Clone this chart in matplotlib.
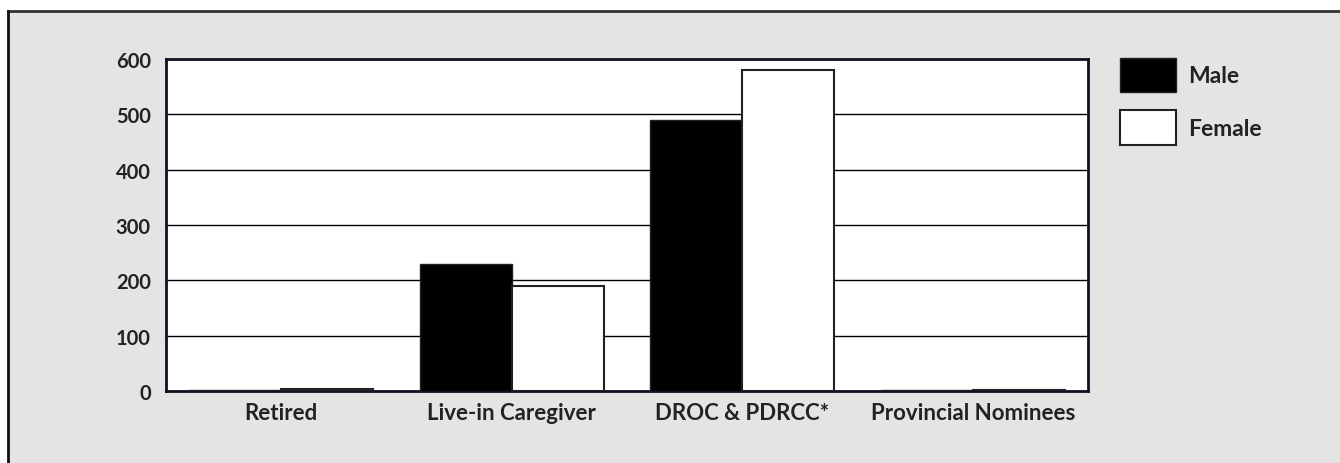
import numpy as np
import matplotlib
matplotlib.use("Agg")
from matplotlib import pyplot as plt
from matplotlib.lines import Line2D
from matplotlib.patches import Rectangle

# Data
categories = ["Retired", "Live-in Caregiver", "DROC & PDRCC*", "Provincial Nominees"]
male = [2, 230, 490, 1]
female = [3, 190, 580, 1]
series_labels = ["Male", "Female"]
y_ticks = [0, 100, 200, 300, 400, 500, 600]

plt.rcParams["font.family"] = ["Lato", "DejaVu Sans"]

W, H = 1340, 464
fig = plt.figure(figsize=(W / 100, H / 100), dpi=100)
fig.patch.set_facecolor("white")

# Grey panel with border on the top and left
x0, y0 = 7.5 / W, 1 - 11.5 / H
panel = Rectangle((x0, 0), 1 - x0, y0, transform=fig.transFigure,
                  facecolor="#e4e4e4", edgecolor="none", zorder=-10)
fig.add_artist(panel)
fig.add_artist(Line2D([x0, 1], [y0, y0], transform=fig.transFigure,
                      color="#333333", linewidth=2, zorder=-9))
fig.add_artist(Line2D([x0, x0], [0, y0], transform=fig.transFigure,
                      color="#111111", linewidth=2, zorder=-9))

ax = fig.add_axes([166 / W, 1 - 392 / H, (1088 - 166) / W, (392 - 60) / H])
ax.set_facecolor("white")

x = np.arange(len(categories))
width = 0.4
ax.bar(x - width / 2, male, width, color="black", edgecolor="#222222", linewidth=1,
       label=series_labels[0], zorder=3)
ax.bar(x + width / 2, female, width, color="white", edgecolor="#222222", linewidth=1.5,
       label=series_labels[1], zorder=3)

ax.set_xlim(-0.5, len(categories) - 0.5)
ax.set_ylim(0, 600)
ax.set_yticks(y_ticks)
ax.set_xticks(x)
ax.set_xticklabels(categories)
ax.yaxis.grid(True, color="black", linewidth=1)
ax.set_axisbelow(True)
ax.tick_params(axis="both", length=0, colors="#222222")
ax.tick_params(axis="y", pad=11, labelsize=14.5)
ax.tick_params(axis="x", pad=8, labelsize=16)
for lbl in ax.get_xticklabels() + ax.get_yticklabels():
    lbl.set_fontweight("bold")
for side in ax.spines.values():
    side.set_linewidth(2)
    side.set_color("#111122")

fs = 16.5
ax.legend(loc="upper left", bbox_to_anchor=(1120 / W, 1 - 59 / H),
          bbox_transform=fig.transFigure, frameon=False, borderpad=0,
          borderaxespad=0, handlelength=2.45, handleheight=1.92,
          labelspacing=0.79, handletextpad=0.52,
          prop={"size": fs, "weight": "bold"}, labelcolor="#222222")

fig.savefig("out.png", dpi=100, facecolor=fig.get_facecolor())
